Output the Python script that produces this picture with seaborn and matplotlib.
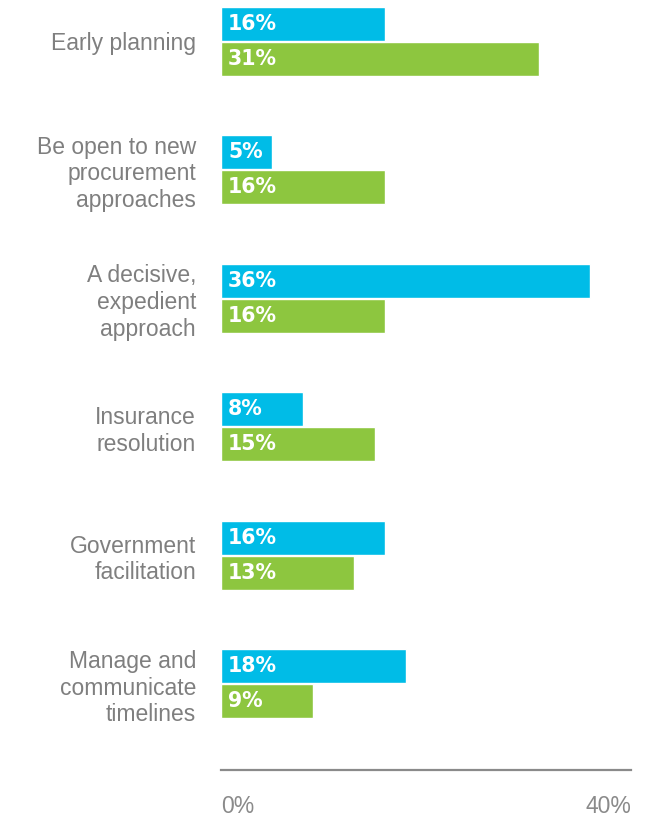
import pandas as pd
import seaborn as sns
import matplotlib.pyplot as plt

# chart data
categories = ['Early planning',
              'Be open to new\nprocurement\napproaches',
              'A decisive,\nexpedient\napproach',
              'Insurance\nresolution',
              'Government\nfacilitation',
              'Manage and\ncommunicate\ntimelines']
blue_vals = [16, 5, 36, 8, 16, 18]
green_vals = [31, 16, 16, 15, 13, 9]
series_names = ['Blue', 'Green']
colors = ['#00bce7', '#8dc63f']
x_ticks = [0, 40]
x_ticklabels = ['0%', '40%']

df = pd.DataFrame({
    'category': categories * 2,
    'value': blue_vals + green_vals,
    'series': [series_names[0]] * len(categories) + [series_names[1]] * len(categories),
})

sns.set_style('white')
plt.rcParams['font.family'] = ['Liberation Sans', 'DejaVu Sans']

fig = plt.figure(figsize=(6.51, 8.17), dpi=100)
ax = fig.add_axes([221 / 651, 47 / 817, 410 / 651, 770 / 817])

sns.barplot(data=df, y='category', x='value', hue='series', palette=colors,
            saturation=1, width=0.544, gap=0.03, legend=False, orient='h', ax=ax)

ax.set_xlim(0, 40)
ax.set_ylim(5.67, -0.32)
ax.set_xlabel('')
ax.set_ylabel('')

# white value labels inside the bars
for cont in ax.containers:
    for bar in cont:
        w = bar.get_width()
        ax.annotate(f'{w:.0f}%', xy=(0, bar.get_y() + bar.get_height() / 2),
                    xytext=(5, 0), textcoords='offset points',
                    ha='left', va='center', color='white',
                    fontsize=14.8, fontweight='bold', family='DejaVu Sans')

# axes styling
for side in ['left', 'top', 'right']:
    ax.spines[side].set_visible(False)
ax.spines['bottom'].set_color('#8a8a8a')
ax.spines['bottom'].set_linewidth(1.6)

ax.set_xticks(x_ticks)
ax.set_xticklabels(x_ticklabels)
ax.tick_params(axis='x', length=0, pad=18, labelsize=16.5, labelcolor='#8a8a8a')
labs = ax.get_xticklabels()
labs[0].set_ha('left')
labs[-1].set_ha('right')

ax.tick_params(axis='y', length=0, pad=18, labelsize=16.5, labelcolor='#7f7f7f')
for t in ax.get_yticklabels():
    t.set_linespacing(1.2)
    t.set_ha('right')

fig.savefig('out.png', dpi=100)
